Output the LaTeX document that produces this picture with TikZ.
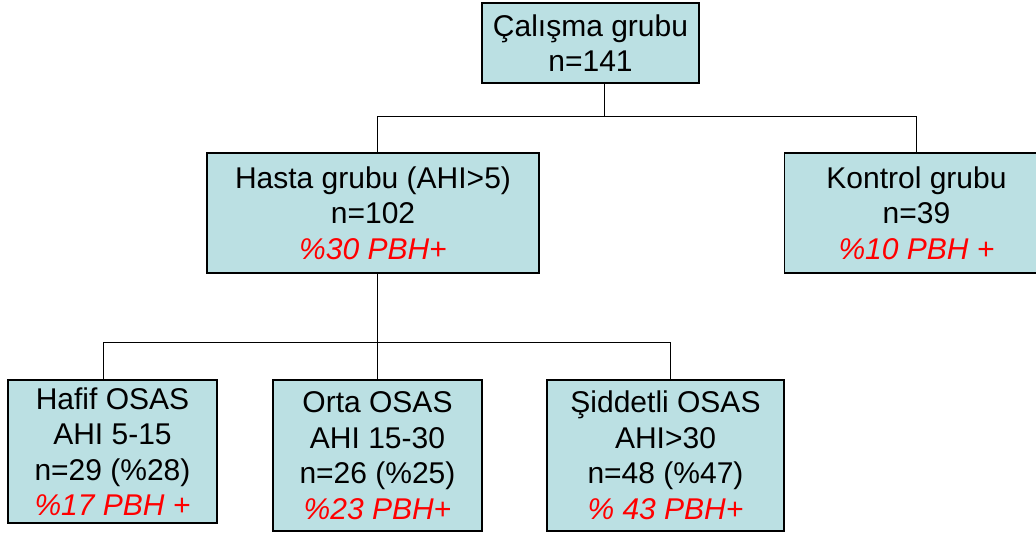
\documentclass[tikz,border=0pt]{standalone}
\usepackage{fontspec}
\setmainfont{Liberation Sans}
\definecolor{boxfill}{RGB}{187,224,227}
\definecolor{pbhred}{RGB}{255,0,0}
\tikzset{
  grp/.style={draw=black, fill=boxfill, line width=1.4pt, rectangle, inner sep=0pt,
    align=center, font=\fontsize{30}{35.5}\selectfont, text=black},
  conn/.style={draw=black, line width=1.6pt},
}
\newcommand{\pbh}[1]{\textcolor{pbhred}{\itshape #1}}
\begin{document}
\begin{tikzpicture}[x=1pt,y=-1pt]
\useasboundingbox (0,0) rectangle (1036,537);
\clip (0,0) rectangle (1036,537);
\node[grp, minimum width=217pt, minimum height=80pt] (top) at (590.5,43) {Çalışma grubu\\n=141};
\node[grp, minimum width=332pt, minimum height=120pt] (hasta) at (373,213) {Hasta grubu (AHI>5)\\n=102\\\pbh{\%30 PBH+}};
\node[grp, minimum width=264pt, minimum height=120pt] (kontrol) at (916.5,213) {Kontrol grubu\\n=39\\\pbh{\%10 PBH +}};
\node[grp, minimum width=209pt, minimum height=143pt] (hafif) at (112.5,451.5) {Hafif OSAS\\AHI 5-15\\n=29 (\%28)\\\pbh{\%17 PBH +}};
\node[grp, minimum width=209pt, minimum height=151pt] (orta) at (377.5,455.5) {Orta OSAS\\AHI 15-30\\n=26 (\%25)\\\pbh{\%23 PBH+}};
\node[grp, minimum width=237pt, minimum height=151pt] (siddetli) at (665.5,455.5) {Şiddetli OSAS\\AHI>30\\n=48 (\%47)\\\pbh{\% 43 PBH+}};
\coordinate (j1) at (604.5,116.5);
\coordinate (j2) at (377.5,342.5);
\draw[conn] (top.south -| j1) -- (j1);
\draw[conn] ([xshift=4.5pt]hasta.north) |- (j1) -| (kontrol.north);
\draw[conn] (hasta.south -| j2) -- (j2);
\draw[conn] ([xshift=-9pt]hafif.north) |- (j2) -| ([xshift=5pt]siddetli.north);
\draw[conn] (orta.north) -- (orta.north |- j2);
\end{tikzpicture}
\end{document}
